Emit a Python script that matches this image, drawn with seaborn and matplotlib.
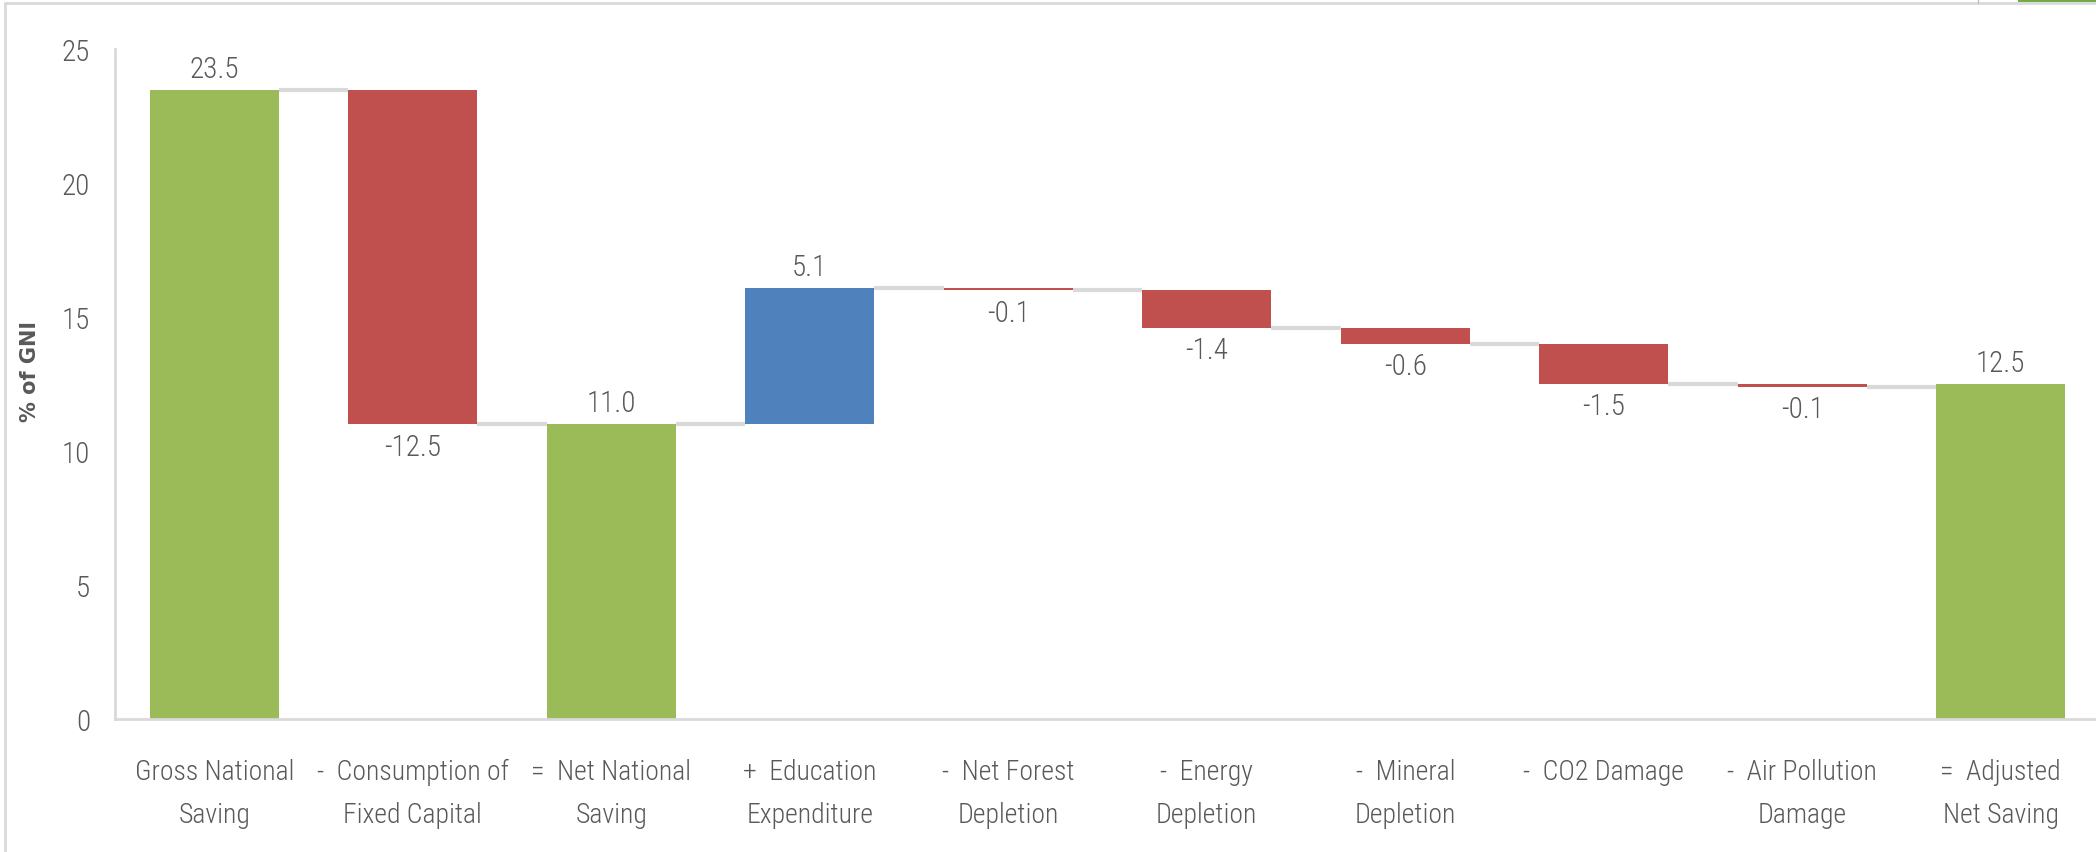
import numpy as np
import pandas as pd
import matplotlib.pyplot as plt
import matplotlib.patches as mpatches
import matplotlib.lines as mlines
from matplotlib import font_manager
import seaborn as sns

# waterfall data (% of GNI)
categories = [
    "Gross National\nSaving",
    "-  Consumption of\nFixed Capital",
    "=  Net National\nSaving",
    "+  Education\nExpenditure",
    "-  Net Forest\nDepletion",
    "-  Energy\nDepletion",
    "-  Mineral\nDepletion",
    "-  CO2 Damage",
    "-  Air Pollution\nDamage",
    "=  Adjusted\nNet Saving",
]
values = [23.5, -12.5, 11.0, 5.1, -0.1, -1.4, -0.6, -1.5, -0.1, 12.5]
kinds = ["total", "step", "total", "step", "step", "step", "step", "step", "step", "total"]
value_labels = ["23.5", "-12.5", "11.0", "5.1", "-0.1", "-1.4", "-0.6", "-1.5", "-0.1", "12.5"]
y_ticks = [0, 5, 10, 15, 20, 25]

GREEN = "#9BBB59"
RED = "#C0504D"
BLUE = "#4F81BD"
TEXT = "#595959"
LINE = "#D9D9D9"

# running totals -> bottom / top of every floating bar
bottoms, tops = [], []
level = 0.0
for v, k in zip(values, kinds):
    if k == "total":
        bottoms.append(0.0)
        tops.append(v)
        level = v
    else:
        start = level
        level = level + v
        bottoms.append(min(start, level))
        tops.append(max(start, level))

colors = []
for v, k in zip(values, kinds):
    if k == "total":
        colors.append(GREEN)
    elif v < 0:
        colors.append(RED)
    else:
        colors.append(BLUE)

df = pd.DataFrame({
    "category": categories,
    "height": np.array(tops) - np.array(bottoms),
    "bottom": bottoms,
})

# narrow font if one is there, else Roboto
installed = {f.name for f in font_manager.fontManager.ttflist}
font = "Roboto"
fs = 17
for name in ["Liberation Sans Narrow", "Roboto Condensed", "Open Sans Condensed"]:
    if name in installed:
        font, fs = name, 20
        break

sns.set_style("white")
plt.rcParams["font.family"] = [font, "DejaVu Sans"]
plt.rcParams["font.weight"] = "light"

fig = plt.figure(figsize=(20.96, 8.53), dpi=100)
ax = fig.add_axes([0.0549, 0.156, 0.947, 0.785])

bar_w = 0.65
sns.barplot(data=df, x="category", y="height", hue="category",
            palette=colors, legend=False, width=bar_w, ax=ax,
            saturation=1, linewidth=0)

# lift each bar onto its running-total base
for patch, b in zip(ax.patches, df["bottom"]):
    patch.set_y(b)

# connector lines between neighbouring bars
ends = []
level = 0.0
for v, k in zip(values, kinds):
    level = v if k == "total" else level + v
    ends.append(level)
for i in range(len(values) - 1):
    ax.hlines(ends[i], i + bar_w / 2, i + 1 - bar_w / 2, color=LINE, lw=3, zorder=0)

# value labels
for i, (v, lab) in enumerate(zip(values, value_labels)):
    if v >= 0:
        ax.annotate(lab, (i, tops[i]), xytext=(0, 5), textcoords="offset points",
                    ha="center", va="bottom", fontsize=fs + 1, color=TEXT)
    else:
        ax.annotate(lab, (i, bottoms[i]), xytext=(0, -6), textcoords="offset points",
                    ha="center", va="top", fontsize=fs + 1, color=TEXT)

ax.set_xlim(-0.5, len(values) - 0.5)
ax.set_ylim(0, 25)
ax.set_yticks(y_ticks)
ax.tick_params(axis="y", labelsize=fs + 1, labelcolor=TEXT, length=0, pad=18)
ax.tick_params(axis="x", labelsize=fs, labelcolor=TEXT, length=0, pad=28)
for lbl in ax.get_xticklabels():
    lbl.set_linespacing(1.75)
    lbl.set_verticalalignment("top")

ax.set_xlabel("")
ax.set_ylabel("% of GNI", fontsize=15, fontweight="bold", color=TEXT,
              family=["DejaVu Sans"])
ax.yaxis.set_label_coords(-0.038, 0.52)

sns.despine(ax=ax, top=True, right=True)
for side in ["left", "bottom"]:
    ax.spines[side].set_color(LINE)
    ax.spines[side].set_linewidth(2)

# outer frame of the source screenshot
fig.add_artist(mlines.Line2D([0.0025, 1.0], [0.995, 0.995], color=LINE, lw=2))
fig.add_artist(mlines.Line2D([0.0025, 0.0025], [0.0, 0.995], color=LINE, lw=2))
fig.add_artist(mlines.Line2D([0.9435, 0.9435], [0.995, 1.0], color="#BFBFBF", lw=1))
fig.add_artist(mpatches.Rectangle((0.963, 0.996), 0.037, 0.004, color="#70AD47", lw=0))

fig.savefig("out.png", dpi=100)
